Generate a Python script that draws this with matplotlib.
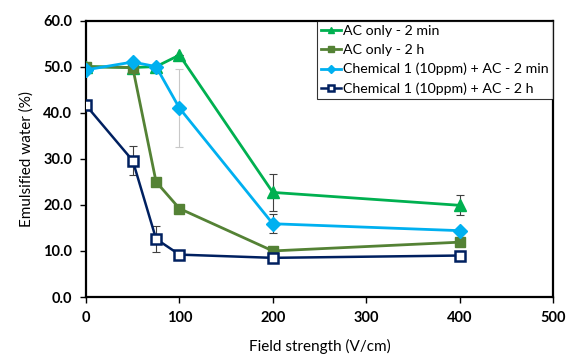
import matplotlib.pyplot as plt
import numpy as np

plt.rcParams['font.family'] = ['Lato', 'DejaVu Sans']

field = [0, 50, 75, 100, 200, 400]

ac_2min = [50.0, 49.8, 50.0, 52.5, 22.7, 19.9]
ac_2min_err = [0, 0, 0, 0, 4.0, 2.2]
ac_2h = [50.0, 49.8, 25.0, 19.2, 10.0, 11.9]
chem_2min = [49.3, 51.0, 50.0, 41.0, 15.9, 14.4]
chem_2min_err = [0, 0, 0, 0, 2.1, 0]
chem_2min_err_light = [0, 0, 0, 8.5, 0, 0]   # drawn in light grey in the original
chem_2h = [41.6, 29.6, 12.6, 9.2, 8.5, 9.0]
chem_2h_err = [0, 3.1, 2.9, 0, 0, 0.9]

labels = ['AC only - 2 min', 'AC only - 2 h',
          'Chemical 1 (10ppm) + AC - 2 min', 'Chemical 1 (10ppm) + AC - 2 h']

fig = plt.figure(figsize=(5.66, 3.54), dpi=100)
ax = fig.add_axes([0.152, 0.161, 0.825, 0.781])

# error bars first (under the lines)
ekw = dict(fmt='none', elinewidth=0.8, capsize=3, capthick=0.8, zorder=1)
ax.errorbar(field, ac_2min, yerr=ac_2min_err, ecolor='#404040', **ekw)
ax.errorbar(field, chem_2min, yerr=chem_2min_err, ecolor='#404040', **ekw)
ax.errorbar(field, chem_2min, yerr=chem_2min_err_light, ecolor='#c8c8c8', **ekw)
ax.errorbar(field, chem_2h, yerr=chem_2h_err, ecolor='#404040', **ekw)

l1, = ax.plot(field, ac_2min, '-^', color='#00B050', lw=2, ms=8, label=labels[0], zorder=3)
l2, = ax.plot(field, ac_2h, '-s', color='#548235', lw=2, ms=7, label=labels[1], zorder=3)
l3, = ax.plot(field, chem_2min, '-D', color='#00B0F0', lw=2, ms=7, label=labels[2], zorder=4)
l4, = ax.plot(field, chem_2h, '-s', color='#002060', lw=1.8, ms=7.5, mfc='white', mew=1.8, label=labels[3], zorder=5)

ax.set_xlim(0, 500)
ax.set_ylim(0, 60)
ax.set_xticks(np.arange(0, 501, 100))
ax.set_yticks(np.arange(0, 61, 10))
ax.set_yticklabels(['%.1f' % v for v in np.arange(0, 61, 10)])
for lab in ax.get_xticklabels() + ax.get_yticklabels():
    lab.set_fontweight('bold')
    lab.set_fontsize(10.5)
ax.tick_params(direction='out', length=4, width=1, pad=6)

for s in ax.spines.values():
    s.set_linewidth(1.6)
    s.set_color('black')

ax.set_xlabel('Field strength (V/cm)', fontsize=11, labelpad=10)
ax.set_ylabel('Emulsified water (%)', fontsize=11, labelpad=7)

leg = ax.legend(handles=[l1, l2, l3, l4], loc='upper right', fontsize=10.2, frameon=True, fancybox=False,
                edgecolor='black', borderaxespad=0, handlelength=1.4, handletextpad=0.15,
                labelspacing=0.5, borderpad=0.3, markerscale=0.6)
leg.get_frame().set_linewidth(0.8)

plt.savefig('out.png', dpi=100)
